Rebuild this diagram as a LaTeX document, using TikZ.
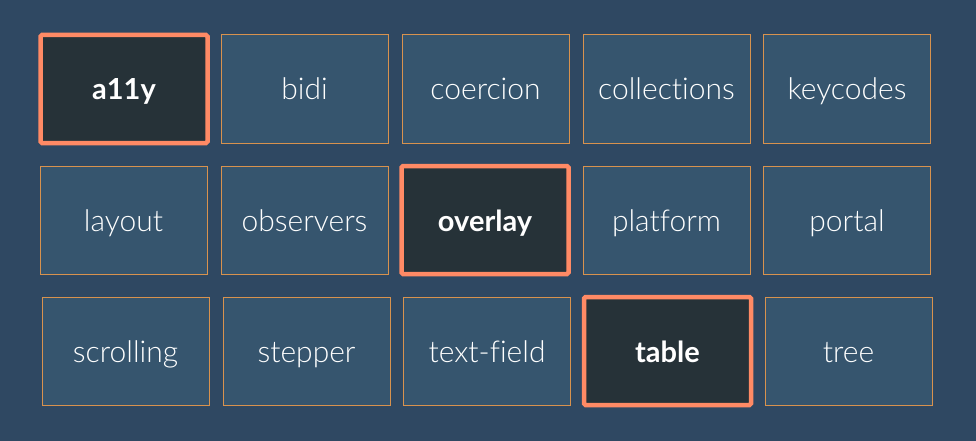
\documentclass[tikz,border=0pt]{standalone}
\usepackage{fontspec}
\setmainfont{Lato}
\newfontfamily\lightf{Lato Light}[Ligatures={NoCommon}]
\newfontfamily\boldf{Lato Bold}[Ligatures={NoCommon}]
\definecolor{bgc}{HTML}{2F4862}
\definecolor{boxc}{HTML}{36556E}
\definecolor{edgec}{HTML}{D8924E}
\definecolor{hlfill}{HTML}{263238}
\definecolor{hledge}{HTML}{FF8A65}
\tikzset{
  base/.style={minimum width=167pt, minimum height=108pt, inner sep=0pt, text=white, text height=22pt, text depth=0pt},
  pkg/.style={base, draw=edgec, line width=1pt, fill=boxc, font=\lightf\fontsize{30}{34}\selectfont},
  hl/.style={base, draw=hledge, line width=4.5pt, fill=hlfill, rounded corners=1.5pt, font=\boldf\fontsize{29}{34}\selectfont}
}
\begin{document}
\begin{tikzpicture}[x=1pt,y=-1pt]
\fill[bgc] (0,0) rectangle (976,441);
\useasboundingbox (0,0) rectangle (976,441);
% row 1
\node[hl]  (a11y) at (124,89) {a11y};
\node[pkg] (bidi) at (304.5,89) {bidi};
\node[pkg] (coercion) at (485.5,89) {coercion};
\node[pkg] (collections) at (666.5,89) {collections};
\node[pkg] (keycodes) at (847,89) {keycodes};
% row 2
\node[pkg] (layout) at (123.5,220) {layout};
\node[pkg] (observers) at (304.5,220) {observers};
\node[hl]  (overlay) at (485,220) {overlay};
\node[pkg] (platform) at (666.5,220) {platform};
\node[pkg] (portal) at (847,220) {portal};
% row 3
\node[pkg] (scrolling) at (125.5,351.5) {scrolling};
\node[pkg] (stepper) at (306.5,351.5) {stepper};
\node[pkg] (textfield) at (487,351.5) {text-field};
\node[hl]  (table) at (667.5,351) {table};
\node[pkg] (tree) at (848.5,351.5) {tree};
\end{tikzpicture}
\end{document}
